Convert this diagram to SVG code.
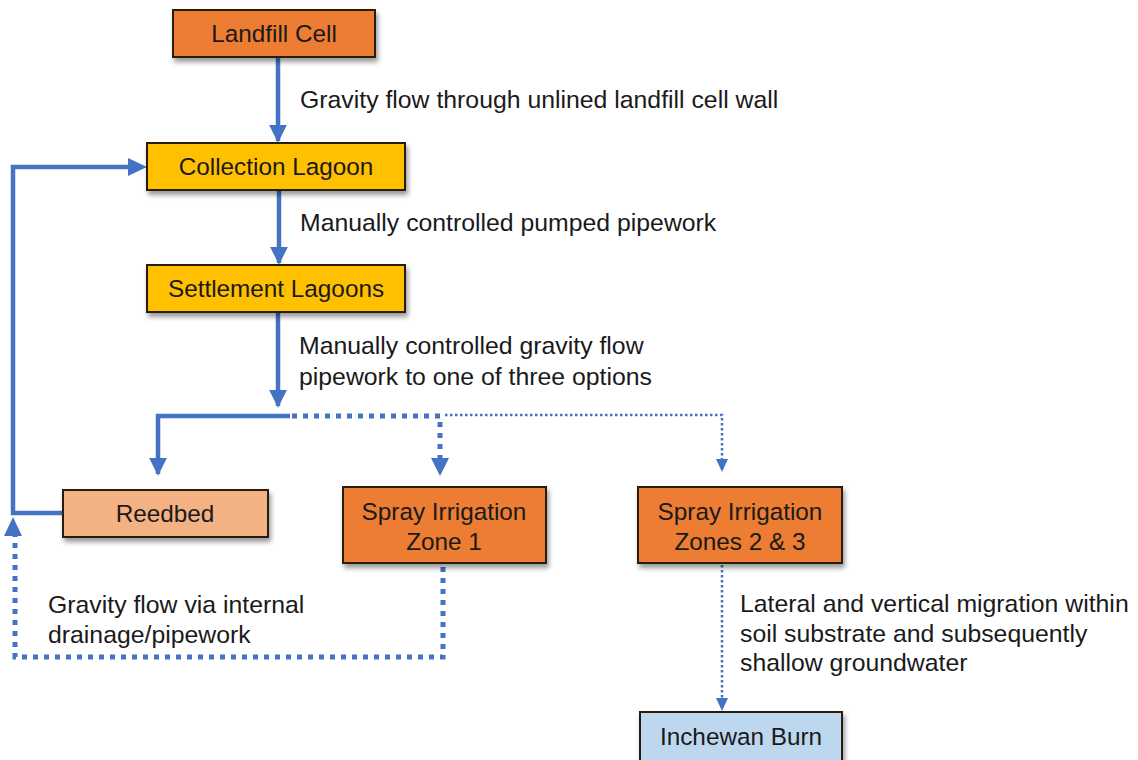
<svg xmlns="http://www.w3.org/2000/svg" width="1138" height="760" viewBox="0 0 1138 760">
<defs>
<style>
.node rect{stroke:#2a1a0e;stroke-width:2}
.nt{font-family:"Liberation Sans",Arial,sans-serif;font-size:24.3px;fill:#1a1a1a;text-anchor:middle}
.lbl{font-family:"Liberation Sans",Arial,sans-serif;font-size:24.8px;fill:#1a1a1a}
.solid{fill:none;stroke:#4472C4;stroke-width:4.5}
.dotk{fill:none;stroke:#4472C4;stroke-width:5;stroke-dasharray:5 6}
.dott{fill:none;stroke:#4472C4;stroke-width:2.5;stroke-dasharray:2.5 2.5}
</style>
<filter id="sh" x="-10%" y="-20%" width="130%" height="160%">
<feDropShadow dx="2" dy="4" stdDeviation="2.5" flood-color="#000" flood-opacity="0.4"/>
</filter>
<marker id="ah" viewBox="0 0 10 10" refX="9" refY="5" markerWidth="4" markerHeight="4" markerUnits="strokeWidth" orient="auto">
<path d="M0,0 L10,5 L0,10 z" fill="#4472C4"/>
</marker>
</defs>
<rect width="1138" height="760" fill="#fff"/>
<g id="connectors">
<path class="solid" d="M278,57 V141" marker-end="url(#ah)"/>
<path class="solid" d="M279,190 V263" marker-end="url(#ah)"/>
<path class="solid" d="M278,312 V406" marker-end="url(#ah)"/>
<path class="solid" d="M290,416 H158 V474" marker-end="url(#ah)"/>
<path class="dotk" d="M292,416 H440"/>
<path class="dotk" d="M440,422 V458"/>
<path d="M431,458 L449,458 L440,476 z" fill="#4472C4"/>
<path class="dott" d="M445,415 H722 V460"/>
<path d="M716,459 L728,459 L722,472 z" fill="#4472C4"/>
<path class="solid" d="M63,513 H13 V167 H128"/>
<path d="M128,158 L147,167 L128,176 z" fill="#4472C4"/>
<path class="dotk" d="M443,567 V657 H15 V535"/>
<path d="M4,536 L22,536 L13,517 z" fill="#4472C4"/>
<path class="dott" d="M722,565 V699"/>
<path d="M716,698 L728,698 L722,711 z" fill="#4472C4"/>
</g>
<g id="landfill" class="node"><rect x="173" y="10" width="202" height="47" fill="#ED7D31" filter="url(#sh)"/><text class="nt" x="274" y="42">Landfill Cell</text></g>
<g id="collection" class="node"><rect x="147" y="143" width="258" height="47" fill="#FFC000" filter="url(#sh)"/><text class="nt" x="276" y="175">Collection Lagoon</text></g>
<g id="settlement" class="node"><rect x="147" y="265" width="258" height="47" fill="#FFC000" filter="url(#sh)"/><text class="nt" x="276" y="297">Settlement Lagoons</text></g>
<g id="reedbed" class="node"><rect x="63" y="490" width="205" height="47" fill="#F4B183" filter="url(#sh)"/><text class="nt" x="165" y="522">Reedbed</text></g>
<g id="zone1" class="node"><rect x="343" y="487" width="203" height="76" fill="#ED7D31" filter="url(#sh)"/><text class="nt" x="444" y="520">Spray Irrigation</text><text class="nt" x="444" y="550">Zone 1</text></g>
<g id="zone23" class="node"><rect x="638" y="487" width="204" height="76" fill="#ED7D31" filter="url(#sh)"/><text class="nt" x="740" y="520">Spray Irrigation</text><text class="nt" x="740" y="550">Zones 2 &amp; 3</text></g>
<g id="inchewan" class="node"><rect x="640" y="712" width="202" height="54" fill="#BDD7EE" filter="url(#sh)"/><text class="nt" x="741" y="745">Inchewan Burn</text></g>
<g id="labels">
<text class="lbl" x="300" y="108">Gravity flow through unlined landfill cell wall</text>
<text class="lbl" x="300" y="231">Manually controlled pumped pipework</text>
<text class="lbl" x="299" y="354">Manually controlled gravity flow</text>
<text class="lbl" x="299" y="385">pipework to one of three options</text>
<text class="lbl" x="48" y="613">Gravity flow via internal</text>
<text class="lbl" x="48" y="643">drainage/pipework</text>
<text class="lbl" x="740" y="612">Lateral and vertical migration within</text>
<text class="lbl" x="740" y="642">soil substrate and subsequently</text>
<text class="lbl" x="740" y="671">shallow groundwater</text>
</g>
</svg>
